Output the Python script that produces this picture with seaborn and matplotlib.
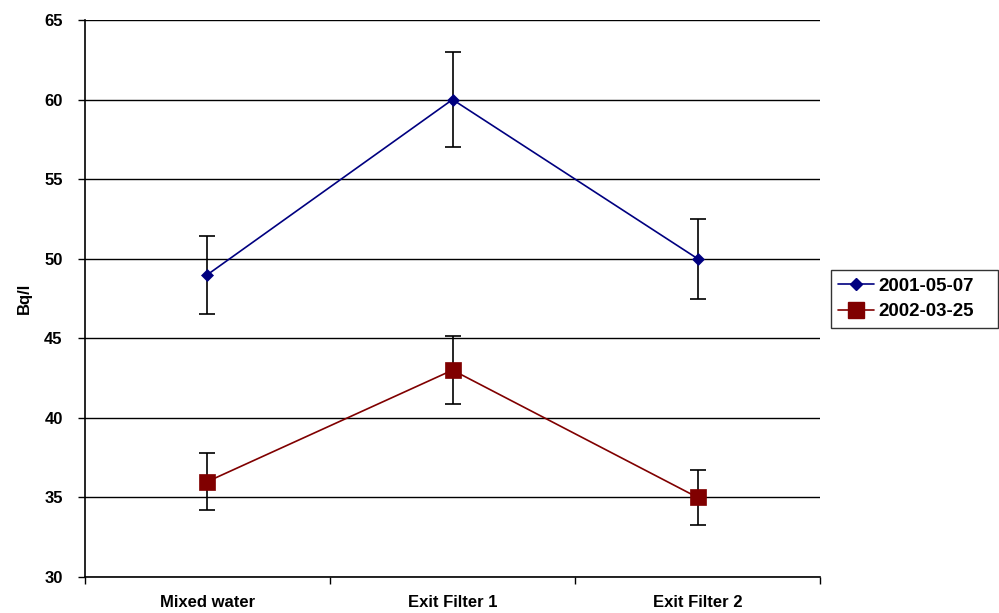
import matplotlib
matplotlib.use("Agg")
import matplotlib.pyplot as plt
import seaborn as sns
import pandas as pd
import numpy as np
from matplotlib.lines import Line2D

categories = ["Mixed water", "Exit Filter 1", "Exit Filter 2"]
series_names = ["2001-05-07", "2002-03-25"]
values_2001 = [49, 60, 50]
errors_2001 = [2.45, 3.0, 2.5]
values_2002 = [36, 43, 35]
errors_2002 = [1.8, 2.15, 1.75]
y_ticks = [30, 35, 40, 45, 50, 55, 60, 65]

sns.set_theme(style="white")
plt.rcParams["font.family"] = ["Liberation Sans", "DejaVu Sans"]
plt.rcParams["text.color"] = "black"
plt.rcParams["axes.labelcolor"] = "black"
plt.rcParams["xtick.color"] = "black"
plt.rcParams["ytick.color"] = "black"

fig = plt.figure(figsize=(9.99, 6.13), dpi=100)
ax = fig.add_axes([0.085, 0.0587, 0.736, 0.9087])

x = np.arange(len(categories))
df = pd.DataFrame({
    "pos": np.concatenate([x, x]),
    "value": values_2001 + values_2002,
    "err": errors_2001 + errors_2002,
    "series": [series_names[0]] * 3 + [series_names[1]] * 3,
})

colors = {series_names[0]: "#000080", series_names[1]: "#800000"}
markers = {series_names[0]: "D", series_names[1]: "s"}
msizes = {series_names[0]: 6.5, series_names[1]: 11}

for y in y_ticks:
    ax.axhline(y, color="black", lw=1.0, zorder=1)

for name in series_names:
    sub = df[df["series"] == name]
    ax.errorbar(sub["pos"], sub["value"], yerr=sub["err"], fmt="none",
                ecolor="black", elinewidth=1.2, capsize=6, capthick=1.2, zorder=2)

sns.lineplot(data=df, x="pos", y="value", hue="series", style="series",
             palette=colors, markers=markers, dashes=False, ax=ax,
             linewidth=1.2, markeredgewidth=0.5, zorder=3, legend=False)
for line in ax.get_lines():
    c = matplotlib.colors.to_hex(line.get_color())
    if c == "#000080":
        line.set_markersize(msizes[series_names[0]])
        line.set_markeredgecolor("#000080")
    elif c == "#800000":
        line.set_markersize(msizes[series_names[1]])
        line.set_markeredgecolor("#800000")

ax.set_xlim(-0.5, 2.5)
ax.set_ylim(30, 65)
ax.set_yticks(y_ticks)
ax.set_yticklabels([str(t) for t in y_ticks], fontsize=12, fontweight="bold")
ax.set_xticks(x)
ax.set_xticklabels(categories, fontsize=12, fontweight="bold")
ax.set_xticks([-0.5, 0.5, 1.5, 2.5], minor=True)
ax.tick_params(axis="x", which="major", length=0, pad=13)
ax.tick_params(axis="x", which="minor", length=5, width=1, color="black", direction="out", bottom=True)
ax.tick_params(axis="y", which="major", length=5, width=1, color="black", direction="out", left=True, pad=11)
ax.set_xlabel("")
ax.set_ylabel("Bq/l", fontsize=12, fontweight="bold", labelpad=9)

for s in ["top", "right"]:
    ax.spines[s].set_visible(False)
for s in ["left", "bottom"]:
    ax.spines[s].set_color("black")
    ax.spines[s].set_linewidth(1.2)

handles = [Line2D([], [], color=colors[n], marker=markers[n], markersize=msizes[n],
                  markeredgecolor=colors[n], lw=1.2) for n in series_names]
leg = fig.legend(handles, series_names, loc="upper left",
                 bbox_to_anchor=(0.8318, 0.30, 0.1672, 0.2595), mode="expand",
                 frameon=True, fancybox=False, edgecolor="black", handlelength=1.9,
                 prop={"weight": "bold", "size": 13.5}, borderpad=0.4, labelspacing=0.45,
                 handletextpad=0.25, borderaxespad=0)
leg.get_frame().set_linewidth(1.0)

fig.savefig("out.png", dpi=100)
